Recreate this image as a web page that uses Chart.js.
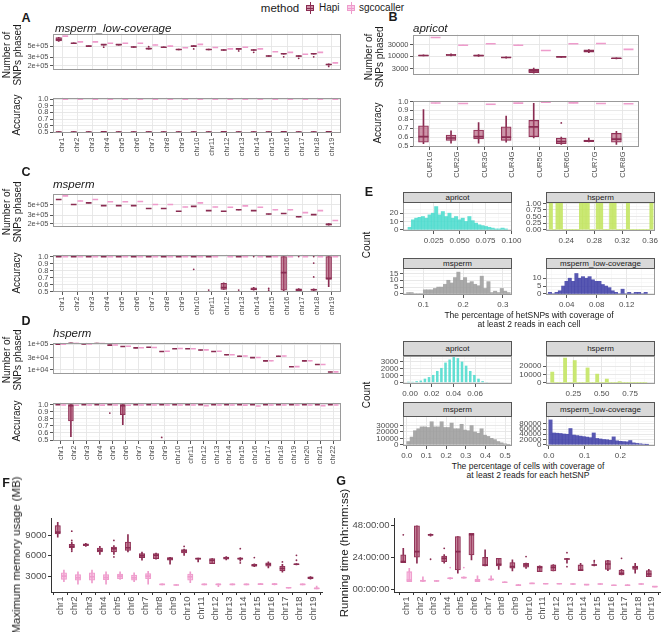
<!DOCTYPE html>
<html>
<head>
<meta charset="utf-8">
<script src="https://cdn.jsdelivr.net/npm/chart.js@4.4.1/dist/chart.umd.min.js"></script>
<style>
  html, body { margin:0; padding:0; background:#fff; overflow:hidden; }
  body { width:661px; height:632px; position:relative; font-family:'Liberation Sans', Arial, sans-serif; }
  canvas { position:absolute; }
  .t { position:absolute; white-space:pre; color:#1a1a1a; line-height:1.05; text-align:center; }
  .strip { position:absolute; background:#d9d9d9; border:1px solid #555; box-sizing:border-box; font-size:8px; color:#1a1a1a; text-align:center; }
</style>
</head>
<body>
<script>
// ---- categories ----
const CHR19 = ['chr1','chr2','chr3','chr4','chr5','chr6','chr7','chr8','chr9','chr10','chr11','chr12','chr13','chr14','chr15','chr16','chr17','chr18','chr19'];
const CHR22 = CHR19.concat(['chr20','chr21','chr22']);
const CURS = ['CUR1G','CUR2G','CUR3G','CUR4G','CUR5G','CUR6G','CUR7G','CUR8G'];

// box stats are [min, q1, median, q3, max]; a single number = collapsed box
// A: msperm_low-coverage
const aSnpHapi = [[6.3e5,6.44e5,6.87e5,7.55e5,7.6e5],[5.65e5,5.72e5,5.78e5,5.84e5,5.9e5],[4.98e5,5.03e5,5.07e5,5.11e5,5.15e5],[5.3e5,5.37e5,5.42e5,5.47e5,5.52e5],[5.32e5,5.38e5,5.42e5,5.48e5,5.52e5],[4.78e5,4.83e5,4.87e5,4.91e5,4.95e5],[4.38e5,4.45e5,4.5e5,4.55e5,4.6e5],[4.72e5,4.77e5,4.81e5,4.85e5,4.88e5],[4.24e5,4.28e5,4.32e5,4.36e5,4.4e5],[4.95e5,5.02e5,5.07e5,5.12e5,5.18e5],[4.25e5,4.29e5,4.32e5,4.35e5,4.38e5],[4.13e5,4.17e5,4.21e5,4.25e5,4.29e5],[4.36e5,4.4e5,4.44e5,4.48e5,4.52e5],[4.12e5,4.17e5,4.21e5,4.25e5,4.3e5],[3.12e5,3.15e5,3.18e5,3.21e5,3.24e5],[3.46e5,3.5e5,3.54e5,3.58e5,3.62e5],[3.1e5,3.14e5,3.18e5,3.22e5,3.26e5],[3.46e5,3.5e5,3.54e5,3.58e5,3.62e5],[2.08e5,2.11e5,2.14e5,2.17e5,2.2e5]];
const aSnpHapiOut = [[3,4.81e5],[6,4.94e5],[9,4.44e5],[12,4.04e5],[13,3.78e5],[15,3.06e5],[16,2.86e5],[17,3.06e5],[18,1.95e5]];
const aSnpSgco = [8.07e5,6.18e5,6.18e5,5.78e5,5.78e5,5.78e5,5.35e5,5.07e5,4.68e5,5.48e5,4.74e5,4.44e5,4.81e5,4.44e5,3.88e5,3.78e5,3.45e5,3.78e5,2.31e5];
const aAccHapi = [[0.497,0.499,0.503,0.508,0.512],[0.497,0.5,0.503,0.506,0.51],[0.497,0.5,0.503,0.507,0.511],[0.5,0.504,0.508,0.511,0.514],[0.498,0.501,0.505,0.509,0.512],[0.497,0.5,0.503,0.507,0.511],[0.498,0.502,0.506,0.51,0.513],[0.497,0.5,0.503,0.506,0.51],[0.497,0.5,0.503,0.507,0.511],[0.498,0.501,0.505,0.509,0.512],[0.497,0.5,0.503,0.506,0.51],[0.499,0.503,0.507,0.511,0.514],[0.497,0.5,0.503,0.507,0.511],[0.498,0.501,0.505,0.509,0.512],[0.498,0.502,0.506,0.51,0.513],[0.499,0.503,0.507,0.511,0.514],[0.497,0.5,0.503,0.507,0.511],[0.498,0.501,0.505,0.509,0.512],[0.499,0.503,0.507,0.511,0.514]];
const aAccSgco = [0.998,0.998,0.998,0.998,0.998,0.998,0.998,0.998,0.998,0.998,0.998,0.998,0.998,0.998,0.998,0.998,0.998,0.998,0.998];

// B: apricot
const bSnpHapi = [[10300,10500,10800,11200,11500],[10500,10800,11350,12000,12800],[9800,10200,10800,11300,11700],[8400,8700,8950,9300,9600],[2000,2140,2520,2880,3290],[9000,9200,9460,9800,10000],[14000,14870,16400,18300,18800],[7800,8000,8270,8500,8700]];
const bSnpSgco = [60000,28800,32900,28800,17400,32900,33700,19300];
const bAccHapi = [[0.526,0.544,0.606,0.726,0.909],[0.533,0.562,0.59,0.624,0.672],[0.533,0.58,0.606,0.679,0.763],[0.544,0.562,0.6,0.715,0.836],[0.59,0.606,0.715,0.788,0.98],[0.518,0.526,0.55,0.588,0.6],[0.545,0.548,0.558,0.568,0.59],[0.518,0.544,0.578,0.642,0.664]];
const bAccHapiOut = [[5,0.76]];
const bAccSgco = [0.983,0.978,0.97,0.982,0.992,0.985,0.978,0.975];

// C: msperm
const cSnpHapi = [6.35e5,5.0e5,5.42e5,4.74e5,4.74e5,4.74e5,4.15e5,4.15e5,3.64e5,4.57e5,3.74e5,3.64e5,3.89e5,3.74e5,3.18e5,3.27e5,2.79e5,3.1e5,[1.88e5,1.9e5,1.95e5,2.0e5,2.02e5]];
const cSnpSgco = [7.54e5,5.93e5,6.35e5,5.7e5,5.7e5,5.76e5,5.0e5,5.0e5,4.44e5,5.42e5,4.44e5,4.38e5,4.68e5,4.38e5,3.89e5,3.89e5,3.4e5,3.74e5,2.34e5];
const cAccHapi = [0.998,0.998,0.998,0.998,0.998,0.998,0.998,0.998,0.998,0.998,0.997,[0.53,0.533,0.56,0.617,0.625],0.998,[0.52,0.523,0.535,0.555,0.56],0.998,[0.51,0.52,0.771,1.0,1.0],[0.51,0.515,0.525,0.54,0.545],[0.515,0.52,0.527,0.535,0.54],[0.57,0.673,0.69,1.0,1.0]];
const cAccHapiOut = [[9,0.818],[10,0.523],[12,0.523],[13,1.0],[14,0.545],[14,0.52],[16,1.0],[17,0.907],[17,0.71],[17,1.0]];
const cAccSgco = [0.998,0.998,0.998,0.998,0.998,0.998,0.998,0.998,0.998,0.998,0.998,0.998,0.998,0.998,0.998,0.998,0.998,0.998,0.998];

// D: hsperm
const dSnpHapi = [1.0e5,1.14e5,1.02e5,1.1e5,9.27e4,8.19e4,7.22e4,7.6e4,5.22e4,6.7e4,6.7e4,5.92e4,5.22e4,3.86e4,3.41e4,3.01e4,2.23e4,3.41e4,1.32e4,2.23e4,1.61e4,8.2e3];
const dSnpSgco = [1.0e5,1.12e5,1.03e5,1.09e5,9.4e4,8.3e4,7.3e4,7.5e4,5.3e4,6.8e4,6.7e4,6.0e4,5.3e4,3.9e4,3.45e4,3.05e4,2.25e4,3.45e4,1.33e4,2.25e4,1.62e4,8.3e3];
const dAccHapi = [0.998,[0.546,0.769,0.986,1.0,1.0],0.998,0.998,0.998,[0.718,0.856,0.986,1.0,1.0],0.998,0.998,0.998,0.998,0.998,0.998,0.998,0.998,0.998,0.998,0.998,0.998,0.998,0.998,0.998,0.998];
const dAccHapiOut = [[4,0.88],[8,0.537]];
const dAccSgco = [0.995,0.99,0.995,0.993,0.995,0.99,0.995,0.995,0.995,0.995,0.995,0.985,0.995,0.995,0.993,0.98,0.995,0.995,0.995,0.995,0.985,0.995];

// E: histograms (bin start, bin width, counts)
const eHetApricotStart = 0.0002, eHetApricotWidth = 0.0032;
const eHetApricot = [3,12,14,15,16,14,18,20,28,18,22,16,20,14,16,12,14,10,16,11,8,6,5,4,3,2,1,1,2,1];
const eHetHspermStart = 0.2155, eHetHspermWidth = 0.0048;
const eHetHsperm = [1,0,1,1,0,0,0,0,0,1,1,1,0,0,1,1,0,0,1,1,0,0,0,1,0,0,0,0,0,0,1];
const eHetMspermStart = 0.058, eHetMspermWidth = 0.0084;
const eHetMsperm = [1,1,0,0,0,3,3,3,4,5,5,7,10,8,12,16,10,12,8,9,7,6,13,4,9,1,2,1,4,2,1];
const eHetLowStart = 0.0155, eHetLowWidth = 0.0044;
const eHetLow = [1,0,1,2,5,8,10,8,13,10,11,10,11,9,8,8,6,5,4,2,1,0,3,0,1,0,1,1,0,1];
const eCellApricotStart = -0.0034, eCellApricotWidth = 0.0038;
const eCellApricot = [130,120,220,300,570,800,1100,1670,2100,2860,3300,3650,3500,3000,2420,1670,1100,570,220,90];
const eCellHspermStart = 0.05, eCellHspermWidth = 0.0283;
const eCellHsperm = [13000,0,0,0,30000,0,0,27000,0,0,0,18000,0,0,10500,0,0,4500,0,0,0,1300,0,0,0,0,0,0,0,0];
const eCellMspermStart = 0.0, eCellMspermWidth = 0.0169;
const eCellMsperm = [5000,12000,22000,25000,28000,28000,27000,36000,28000,28000,36000,27000,27000,34000,25000,25000,32000,23000,22000,30000,20000,18000,25000,15000,13000,10000,8000,5000,3000,1500,500];
const eCellLowStart = 0.0, eCellLowWidth = 0.0093;
const eCellLow = [95000,45000,44000,43000,41000,40000,62000,37000,35000,33000,31000,29000,27000,45000,24000,22000,20000,19000,17000,30000,15000,13000,12000,11000,16000,7000,5000,3500,2000,800];

// F: memory (MB)
const fMemHapi = [[8756,9244,9488,10463,10950],[6805,7195,7390,7683,8024],[7400,7488,7634,7780,7850],[6220,6561,6805,7146,7390],[6200,6561,7049,7293,7500],[6561,6805,7195,8024,9146],[5341,5732,6024,6317,6561],[5500,5585,6073,6317,6400],[4756,5341,5585,5732,5780],[6073,6415,6707,6902,7000],[5098,5488,5585,5630,5680],[4854,4854,5341,5585,5585],[5400,5488,5683,5829,5900],[5200,5488,5585,5680,5750],[4400,4463,4561,4756,4800],[4220,4463,4756,4951,5098],[3600,3780,4122,4463,4756],[4650,4700,4756,4800,4850],[2550,2610,2756,2902,2950]];
const fMemHapiOut = [[1,9634],[1,8268],[1,6658],[4,8268],[4,5829],[9,7390],[13,7049],[13,4951],[14,5732],[16,5098],[17,6073],[17,5341]];
const fMemSgco = [[2170,2512,3000,3488,3878],[1829,2415,2756,3244,3634],[2000,2415,2902,3488,3878],[1829,2463,2805,3244,3634],[2512,2610,3000,3293,3634],[2170,2415,2756,3146,3488],[1829,2610,3000,3390,3700],[1700,1730,1780,1830,1880],[1630,1660,1683,1710,1740],[2024,2415,2902,3293,3634],[1700,1730,1780,1830,1880],[1450,1730,1780,1830,1880],[1700,1730,1780,1830,1880],[1700,1740,1780,1830,1870],[1750,1780,1829,1870,1950],[1700,1760,1829,1880,1950],[1230,1260,1293,1320,1350],[1720,1750,1780,1830,1880],[1100,1150,1195,1250,1537]];

// G: running time (hours)
const gTimeHapi = [[20,20,20.7,25.8,30.8],[19.5,24,28.3,47.7,47.7],[40,40.5,41,41.3,41.8],[19.5,20.7,23.2,25,26],[11.9,14.4,28.3,39.7,39.7],[22,25.8,41,42.2,42.2],[17.4,17.4,18.2,24,29.6],[14.9,17.4,18.7,23.2,23.2],[13.6,15.7,16.9,20,22],[15.5,16.5,18.2,19.5,19.7],[13.1,13.1,16.4,17.4,17.6],[13.6,13.6,16.4,18.2,18.5],[19.5,22.3,22.7,23,23.3],[13.9,13.9,14.4,18.2,19.5],[17.5,17.9,18.2,18.5,19],[13.9,14.9,18.9,21.5,21.7],[10.6,10.6,11.9,14.4,14.9],[11.9,14.9,16.4,17.4,19.5],[9.3,9.3,11.4,13.9,14.9]];
const gTimeHapiOut = [[0,41],[2,22.5],[3,30.8],[9,24.5],[12,27.5],[12,16.9],[14,21.5],[14,20.5],[16,23.2]];
const gTimeSgco = [[5.6,5.6,6.8,13.1,15.7],[5.5,5.8,6.3,6.8,9.3],[5.8,6,6.1,6.3,6.5],[7.5,7.8,8.1,8.4,8.7],[8.2,8.4,8.6,8.8,9.2],[5.6,5.6,6.5,7.3,9.9],[6.5,6.8,7.3,7.6,9.9],[4.9,5,5.1,5.2,5.4],[2.5,2.6,2.8,3.4,3.6],[4.1,4.2,4.3,4.4,4.5],[3.8,3.9,4,4.1,4.2],[3.8,3.9,4,4.1,4.2],[3.5,3.6,3.8,4,4.1],[3.1,3.2,3.3,3.4,3.5],[3.5,3.6,3.8,4,4.1],[2.6,2.7,2.8,2.9,3.0],[2.5,2.6,2.8,3.2,3.3],[3.5,3.6,3.8,4,4.1],[1.5,1.6,1.8,2.0,2.1]];
const gTimeSgcoOut = [[3,16.2],[4,16.2]];

// ---- styling ----
const HAPI = {fill:'rgba(172,78,112,0.6)', line:'#8a2c52'};
const SGCO = {fill:'rgba(244,168,214,0.55)', line:'#ee9ccc'};
const TICK = '#4d4d4d';

Chart.defaults.font.family = "'Liberation Sans', Arial, sans-serif";
Chart.defaults.color = TICK;
Chart.defaults.plugins.legend.display = false;
Chart.defaults.plugins.tooltip.enabled = false;

Chart.register({
  id: 'frame',
  defaults: {color: null},
  afterDraw(ch, args, o) {
    if (!o.color) return;
    const a = ch.chartArea, c = ch.ctx;
    c.save(); c.strokeStyle = o.color; c.lineWidth = 1;
    c.strokeRect(Math.round(a.left) + 0.5, Math.round(a.top) + 0.5, Math.round(a.right - a.left) - 1, Math.round(a.bottom - a.top) - 1);
    c.restore();
  }
});

function T(s, x, y, size, o) {
  o = o || {};
  const d = document.createElement('div');
  d.className = 't'; d.textContent = s;
  d.style.left = x + 'px'; d.style.top = y + 'px'; d.style.fontSize = size + 'px';
  if (o.i) d.style.fontStyle = 'italic';
  if (o.b) d.style.fontWeight = 'bold';
  let tf = o.left ? 'translate(0,-50%)' : 'translate(-50%,-50%)';
  if (o.rot) tf += ' rotate(-90deg)';
  d.style.transform = tf;
  document.body.appendChild(d);
}
function strip(s, x, y, w, h) {
  const d = document.createElement('div');
  d.className = 'strip'; d.textContent = s;
  Object.assign(d.style, {left: x + 'px', top: y + 'px', width: w + 'px', height: h + 'px', lineHeight: (h - 2) + 'px'});
  document.body.appendChild(d);
}
function key(x, col) {
  const w = document.createElement('div');
  w.style.cssText = 'position:absolute;left:' + x + 'px;top:2px;width:8px;height:12px;';
  w.innerHTML = '<div style="position:absolute;left:3.5px;top:0;width:1px;height:12px;background:' + col.line + '"></div>' +
    '<div style="position:absolute;left:0;top:3px;width:8px;height:6px;box-sizing:border-box;border:1px solid ' + col.line + ';background:' + col.fill + '"></div>' +
    '<div style="position:absolute;left:0;top:5.5px;width:8px;height:1px;background:' + col.line + '"></div>';
  document.body.appendChild(w);
}

function mount(x0, y0, w, h, yw, xh, cfg) {
  const pt = 5, pr = 16;
  const cv = document.createElement('canvas');
  cv.width = yw + w + pr; cv.height = pt + h + xh;
  cv.style.left = (x0 - yw) + 'px'; cv.style.top = (y0 - pt) + 'px';
  document.body.appendChild(cv);
  const o = cfg.options;
  o.responsive = false; o.animation = false; o.devicePixelRatio = 1; o.events = [];
  o.layout = {padding: {left: 0, top: pt, right: pr, bottom: 0}};
  o.scales.x.afterFit = s => { s.height = xh; s.paddingLeft = 0; s.paddingRight = 0; };
  o.scales.y.afterFit = s => { s.width = yw; s.paddingTop = 0; s.paddingBottom = 0; };
  return new Chart(cv, cfg);
}

function mids(majors, lo, hi) {
  const st = majors[1] - majors[0], out = [];
  for (let i = -1; i < majors.length; i++) {
    const v = majors[0] + (i + 0.5) * st;
    if (v > lo && v < hi) out.push(v);
  }
  return out;
}
function tickSetter(majors, minors) {
  return s => {
    s.ticks = majors.map(v => ({value: v, major: true}))
      .concat(minors.map(v => ({value: v, major: false})))
      .sort((a, b) => a.value - b.value);
  };
}
const isMajor = c => c.tick && c.tick.major;

function axis(lo, hi, majors, fmt, o) {
  const minors = o.minor ? mids(majors, lo, hi) : [];
  const classic = !!o.classic;
  return {
    type: o.type || 'linear', min: lo, max: hi, offset: false, beginAtZero: false,
    afterBuildTicks: tickSetter(majors, minors),
    grid: classic
      ? {drawOnChartArea: false, drawTicks: true, tickLength: 3, tickColor: '#333'}
      : {offset: false, color: c => isMajor(c) ? '#e5e5e5' : '#f0f0f0', lineWidth: c => isMajor(c) ? 0.9 : 0.5,
         drawTicks: o.show !== false, tickLength: 3, tickColor: c => isMajor(c) ? '#444' : 'rgba(0,0,0,0)'},
    border: classic ? {display: true, color: '#333', width: 1} : {display: false},
    ticks: {display: o.show !== false, autoSkip: false, padding: 1.5, font: {size: o.fs || 7.5}, color: TICK,
            maxRotation: o.rot || 0, minRotation: o.rot || 0,
            callback: (v, i, t) => t[i].major ? fmt(v) : ''}
  };
}

function toBox(s) { return Array.isArray(s) ? s : [s, s, s, s, s]; }
function boxSets(stats, outs, off, col, bw) {
  const b = stats.map(toBox);
  return [
    {type: 'bar', data: b.map((s, i) => ({x: i + off, y: [s[0], s[4]]})), backgroundColor: col.line, barThickness: 1, grouped: false, order: 4},
    {type: 'bar', data: b.map((s, i) => ({x: i + off, y: [s[1], s[3]]})), backgroundColor: col.fill, borderColor: col.line,
     borderWidth: 0.6, borderSkipped: false, barThickness: bw, grouped: false, order: 3},
    {type: 'scatter', data: b.map((s, i) => ({x: i + off, y: s[2]})), pointStyle: 'line', pointRadius: bw / 2,
     borderColor: col.line, borderWidth: 1.6, order: 2},
    {type: 'scatter', data: (outs || []).map(p => ({x: p[0] + off, y: p[1]})), pointRadius: 0.9,
     backgroundColor: col.line, borderWidth: 0, order: 1}
  ];
}

// boxplot panel: pos = [x0, y0, w, h]
function boxChart(pos, cats, hapi, sgco, y, o) {
  const [x0, y0, w, h] = pos;
  const xmin = o.xmin !== undefined ? o.xmin : -0.6, xmax = o.xmax !== undefined ? o.xmax : cats.length - 0.4;
  const unit = w / (xmax - xmin), bw = (o.bwf || 0.38) * unit;
  const datasets = boxSets(hapi[0], hapi[1], -0.22, HAPI, bw).concat(boxSets(sgco[0], sgco[1], 0.22, SGCO, bw));
  const xs = axis(xmin, xmax, cats.map((c, i) => i), v => cats[v],
    {show: !!o.xlab, rot: 90, fs: o.xfs || 7.5, classic: o.classic});
  const ys = axis(y.min, y.max, y.major, y.fmt, {type: y.type, minor: y.minor, fs: o.yfs || 7.5, classic: o.classic});
  return mount(x0, y0, w, h, o.yw || 40, o.xlab ? (o.xh || 30) : 0, {
    type: 'bar',
    data: {datasets},
    options: {scales: {x: xs, y: ys}, plugins: {frame: {color: o.classic ? null : '#9a9a9a'}}}
  });
}

function hist(pos, start, width, counts, color, xr, xmaj, xfmt, yr, ymaj, yfmt, pct) {
  const [x0, y0, w, h] = pos;
  const data = counts.map((c, i) => ({x: start + (i + 0.5) * width, y: c}));
  return mount(x0, y0, w, h, 32, 14, {
    type: 'bar',
    data: {datasets: [{data, backgroundColor: color, barPercentage: pct || 1, categoryPercentage: 1, grouped: false}]},
    options: {
      scales: {
        x: axis(xr[0], xr[1], xmaj, xfmt, {minor: true, fs: 8}),
        y: axis(yr[0], yr[1], ymaj, yfmt, {minor: true, fs: 8})
      },
      plugins: {frame: {color: '#9a9a9a'}}
    }
  });
}

const sci = v => { const e = Math.floor(Math.log10(v) + 1e-9); return Math.round(v / Math.pow(10, e)) + 'e+' + String(e).padStart(2, '0'); };
const f0 = v => String(v), f1 = v => v.toFixed(1), f2 = v => v.toFixed(2), f3 = v => v.toFixed(3);
const ACC_MAJ = [0.5, 0.6, 0.7, 0.8, 0.9, 1.0];

// ---- A ----
boxChart([53, 33, 288, 42], CHR19, [aSnpHapi, aSnpHapiOut], [aSnpSgco, []],
  {type: 'logarithmic', min: 1.7e5, max: 9.1e5, major: [2e5, 3e5, 5e5], fmt: sci}, {});
boxChart([53, 97, 288, 36], CHR19, [aAccHapi, []], [aAccSgco, []],
  {min: 0.49, max: 1.023, major: ACC_MAJ, fmt: f1, minor: true}, {xlab: true});
// ---- B ----
boxChart([413, 33, 226, 48], CURS, [bSnpHapi, []], [bSnpSgco, []],
  {type: 'logarithmic', min: 1790, max: 78900, major: [3000, 10000, 30000], fmt: f0}, {bwf: 0.36});
boxChart([413, 99, 226, 48], CURS, [bAccHapi, bAccHapiOut], [bAccSgco, []],
  {min: 0.489, max: 1.011, major: ACC_MAJ, fmt: f1, minor: true}, {xlab: true, bwf: 0.36, xh: 32});
// ---- C ----
boxChart([53, 193, 288, 39], CHR19, [cSnpHapi, []], [cSnpSgco, []],
  {type: 'logarithmic', min: 1.77e5, max: 8.4e5, major: [2e5, 3e5, 5e5], fmt: sci}, {});
boxChart([53, 254, 288, 38], CHR19, [cAccHapi, cAccHapiOut], [cAccSgco, []],
  {min: 0.495, max: 1.028, major: ACC_MAJ, fmt: f1, minor: true}, {xlab: true});
// ---- D ----
boxChart([53, 342, 288, 37], CHR22, [dSnpHapi, []], [dSnpSgco, []],
  {type: 'logarithmic', min: 7240, max: 1.16e5, major: [1e4, 3e4, 1e5], fmt: sci}, {});
boxChart([53, 402, 288, 39], CHR22, [dAccHapi, dAccHapiOut], [dAccSgco, []],
  {min: 0.486, max: 1.028, major: ACC_MAJ, fmt: f1, minor: true}, {xlab: true});

// ---- E ----
const C_APR = 'rgba(72,218,204,0.85)', C_HSP = 'rgba(196,230,100,0.9)', C_MSP = 'rgba(160,160,160,0.9)', C_LOW = 'rgba(70,70,170,0.9)';
hist([403, 202, 109, 29], eHetApricotStart, eHetApricotWidth, eHetApricot, C_APR, [-0.0046, 0.1005], [0.025, 0.05, 0.075, 0.1], f3, [-1.5, 33.5], [0, 10, 20], f0);
hist([546, 202, 109, 29], eHetHspermStart, eHetHspermWidth, eHetHsperm, C_HSP, [0.211, 0.367], [0.24, 0.28, 0.32, 0.36], f2, [-0.05, 1.05], [0, 0.25, 0.5, 0.75, 1], f2);
hist([403, 268, 109, 27], eHetMspermStart, eHetMspermWidth, eHetMsperm, C_MSP, [0.049, 0.323], [0.1, 0.2, 0.3], f1, [-0.8, 19], [0, 5, 10, 15], f0);
hist([546, 268, 109, 27], eHetLowStart, eHetLowWidth, eHetLow, C_LOW, [0.0124, 0.1577], [0.04, 0.08, 0.12], f2, [-0.7, 16.5], [0, 5, 10], f0);
hist([403, 356, 109, 28], eCellApricotStart, eCellApricotWidth, eCellApricot, C_APR, [-0.0065, 0.094], [0, 0.02, 0.04, 0.06], f2, [-190, 3800], [0, 1000, 2000, 3000], f0, 0.62);
hist([546, 356, 109, 28], eCellHspermStart, eCellHspermWidth, eCellHsperm, C_HSP, [0.009, 0.97], [0.25, 0.5, 0.75], f2, [-1500, 32500], [0, 10000, 20000], f0);
hist([403, 416, 109, 30], eCellMspermStart, eCellMspermWidth, eCellMsperm, C_MSP, [-0.019, 0.535], [0, 0.1, 0.2, 0.3, 0.4, 0.5], f1, [-2000, 45000], [0, 10000, 20000, 30000], f0);
hist([546, 416, 109, 30], eCellLowStart, eCellLowWidth, eCellLow, C_LOW, [-0.008, 0.297], [0, 0.1, 0.2], f1, [-5000, 110000], [0, 20000, 40000, 60000, 80000], f0);

// ---- F, G ----
boxChart([51, 518, 271, 74], CHR19, [fMemHapi, fMemHapiOut], [fMemSgco, []],
  {min: 660, max: 11490, major: [3000, 6000, 9000], fmt: f0},
  {xlab: true, classic: true, xmin: -0.7, xmax: 18.6, xh: 36, xfs: 9.5, yfs: 9.5, yw: 40});
boxChart([394, 518, 266, 74], CHR19, [gTimeHapi, gTimeHapiOut], [gTimeSgco, gTimeSgcoOut],
  {min: -2.25, max: 53.25, major: [0, 24, 48], fmt: v => String(v).padStart(2, '0') + ':00:00'},
  {xlab: true, classic: true, xmin: -0.9, xmax: 18.6, xh: 36, xfs: 9.5, yfs: 9.5, yw: 55});

// ---- text ----
T('method', 280, 8, 11.5);
key(306, HAPI); T('Hapi', 319, 8, 10, {left: true});
key(347, SGCO); T('sgcocaller', 359, 8, 10, {left: true});

T('A', 26, 19, 12.5, {b: true});
T('msperm_low-coverage', 55, 28, 11.5, {i: true, left: true});
T('Number of\nSNPs phased', 12, 55, 10, {rot: true});
T('Accuracy', 17, 115, 10, {rot: true});

T('B', 393, 18, 12.5, {b: true});
T('apricot', 413, 28, 11.5, {i: true, left: true});
T('Number of\nSNPs phased', 374, 57, 10, {rot: true});
T('Accuracy', 378, 123, 10, {rot: true});

T('C', 26, 173, 12.5, {b: true});
T('msperm', 53, 184, 11.5, {i: true, left: true});
T('Number of\nSNPs phased', 12, 212, 10, {rot: true});
T('Accuracy', 17, 273, 10, {rot: true});

T('D', 26, 322, 12.5, {b: true});
T('hsperm', 53, 333, 11.5, {i: true, left: true});
T('Number of\nSNPs phased', 12, 360, 10, {rot: true});
T('Accuracy', 17, 421, 10, {rot: true});

T('E', 369, 193, 12.5, {b: true});
strip('apricot', 403, 192, 109, 11); strip('hsperm', 546, 192, 109, 11);
strip('msperm', 403, 258, 109, 11); strip('msperm_low-coverage', 546, 258, 109, 11);
strip('apricot', 403, 341, 109, 15); strip('hsperm', 546, 341, 109, 15);
strip('msperm', 403, 402, 109, 15); strip('msperm_low-coverage', 546, 402, 109, 15);
T('Count', 367, 245, 10, {rot: true});
T('Count', 367, 395, 10, {rot: true});
T('The percentage of hetSNPs with coverage of\nat least 2 reads in each cell', 529, 320, 8.5);
T('The percentage of cells with coverage of\nat least 2 reads for each hetSNP', 528, 471, 8.5);

T('F', 6, 484, 12.5, {b: true});
T('Maximum memory usage (MB)', 16, 555, 11.5, {rot: true});
T('G', 341, 482, 12.5, {b: true});
T('Running time (hh:mm:ss)', 344, 553, 11.5, {rot: true});
</script>
</body>
</html>
